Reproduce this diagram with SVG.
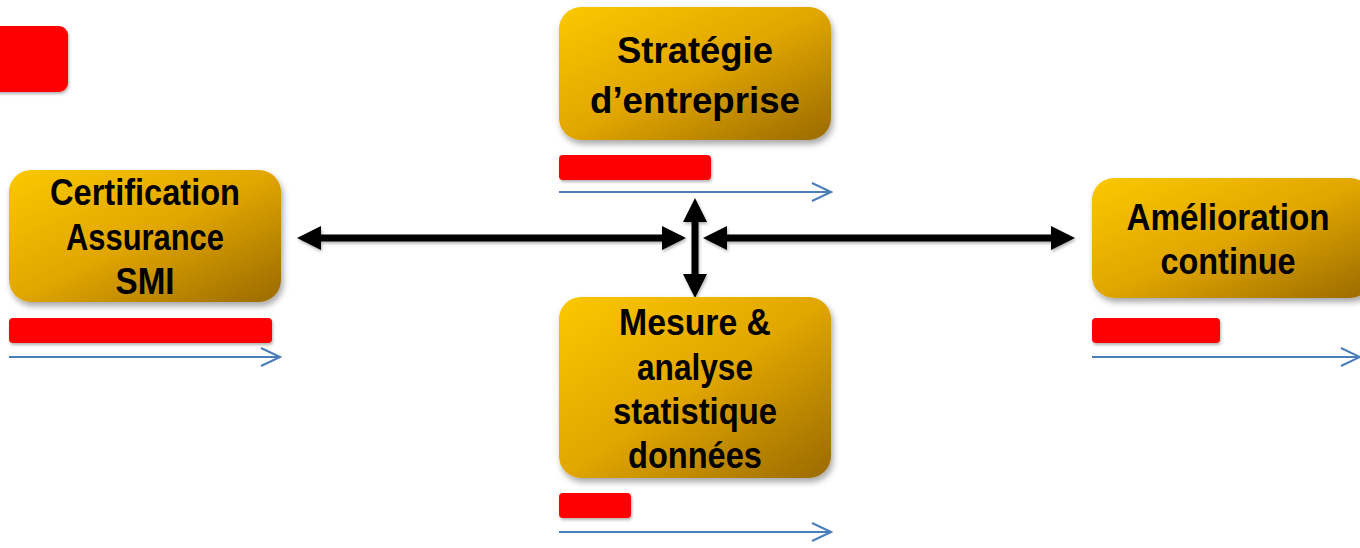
<svg xmlns="http://www.w3.org/2000/svg" width="1360" height="548" viewBox="0 0 1360 548">
<style>
.node-text{font-family:"Liberation Sans",Arial,sans-serif;font-weight:bold;font-size:36px;fill:#000;text-anchor:middle}
.red{fill:#FF0000}
.blue{stroke:#4A7EBB;stroke-width:2;fill:none}
.conn{stroke:#000;stroke-width:7;fill:none}
</style>
<defs>
<linearGradient id="gold" x1="0" y1="0" x2="1" y2="1">
<stop offset="0" stop-color="#FBC800"/>
<stop offset="0.5" stop-color="#E1A600"/>
<stop offset="1" stop-color="#9A6A00"/>
</linearGradient>
<filter id="sh" filterUnits="userSpaceOnUse" x="-20" y="-20" width="1400" height="590">
<feDropShadow dx="2" dy="4" stdDeviation="3" flood-color="#000" flood-opacity="0.35"/>
</filter>
<filter id="shs" filterUnits="userSpaceOnUse" x="-20" y="-20" width="1400" height="590">
<feDropShadow dx="1" dy="2" stdDeviation="1.5" flood-color="#000" flood-opacity="0.3"/>
</filter>
<marker id="ah" viewBox="0 0 24 24" refX="4" refY="12" markerWidth="24" markerHeight="24" markerUnits="userSpaceOnUse" orient="auto-start-reverse">
<path d="M0,0 L24,12 L0,24 z" fill="#000"/>
</marker>
<marker id="chev" viewBox="0 0 22 22" refX="20" refY="11" markerWidth="22" markerHeight="22" markerUnits="userSpaceOnUse" orient="auto">
<path d="M1,2 L20,11 L1,20" fill="none" stroke="#4A7EBB" stroke-width="2"/>
</marker>
</defs>
<rect width="1360" height="548" fill="#FFFFFF"/>

<g id="corner-tag">
<rect x="-12" y="26" width="80" height="66" rx="9" class="red" filter="url(#shs)"/>
</g>

<g id="connectors" filter="url(#shs)">
<line x1="317" y1="238" x2="666" y2="238" class="conn" marker-start="url(#ah)" marker-end="url(#ah)"/>
<line x1="723" y1="238" x2="1055" y2="238" class="conn" marker-start="url(#ah)" marker-end="url(#ah)"/>
<line x1="695" y1="218" x2="695" y2="278" class="conn" marker-start="url(#ah)" marker-end="url(#ah)"/>
</g>

<g id="strategie">
<rect x="559" y="7" width="272" height="133" rx="22" fill="url(#gold)" filter="url(#sh)"/>
<text class="node-text" x="695" y="63" textLength="156" lengthAdjust="spacingAndGlyphs">Stratégie</text>
<text class="node-text" x="695" y="113" textLength="210" lengthAdjust="spacingAndGlyphs">d’entreprise</text>
<rect x="559" y="155" width="152" height="25" rx="4" class="red" filter="url(#shs)"/>
<line x1="559" y1="192" x2="831" y2="192" class="blue" marker-end="url(#chev)"/>
</g>

<g id="certification">
<rect x="9" y="170" width="272" height="132" rx="22" fill="url(#gold)" filter="url(#sh)"/>
<text class="node-text" x="145" y="205" textLength="190" lengthAdjust="spacingAndGlyphs">Certification</text>
<text class="node-text" x="145" y="250" textLength="158" lengthAdjust="spacingAndGlyphs">Assurance</text>
<text class="node-text" x="145" y="294" textLength="59" lengthAdjust="spacingAndGlyphs">SMI</text>
<rect x="9" y="318" width="263" height="25" rx="4" class="red" filter="url(#shs)"/>
<line x1="9" y1="357" x2="280" y2="357" class="blue" marker-end="url(#chev)"/>
</g>

<g id="amelioration">
<rect x="1092" y="178" width="280" height="120" rx="22" fill="url(#gold)" filter="url(#sh)"/>
<text class="node-text" x="1228" y="230" textLength="203" lengthAdjust="spacingAndGlyphs">Amélioration</text>
<text class="node-text" x="1228" y="274" textLength="135" lengthAdjust="spacingAndGlyphs">continue</text>
<rect x="1092" y="318" width="128" height="25" rx="4" class="red" filter="url(#shs)"/>
<line x1="1092" y1="357" x2="1360" y2="357" class="blue" marker-end="url(#chev)"/>
</g>

<g id="mesure">
<rect x="559" y="297" width="272" height="181" rx="22" fill="url(#gold)" filter="url(#sh)"/>
<text class="node-text" x="695" y="335" textLength="152" lengthAdjust="spacingAndGlyphs">Mesure &amp;</text>
<text class="node-text" x="695" y="380" textLength="116" lengthAdjust="spacingAndGlyphs">analyse</text>
<text class="node-text" x="695" y="424" textLength="164" lengthAdjust="spacingAndGlyphs">statistique</text>
<text class="node-text" x="695" y="468" textLength="134" lengthAdjust="spacingAndGlyphs">données</text>
<rect x="559" y="493" width="72" height="25" rx="4" class="red" filter="url(#shs)"/>
<line x1="559" y1="532" x2="831" y2="532" class="blue" marker-end="url(#chev)"/>
</g>
</svg>
